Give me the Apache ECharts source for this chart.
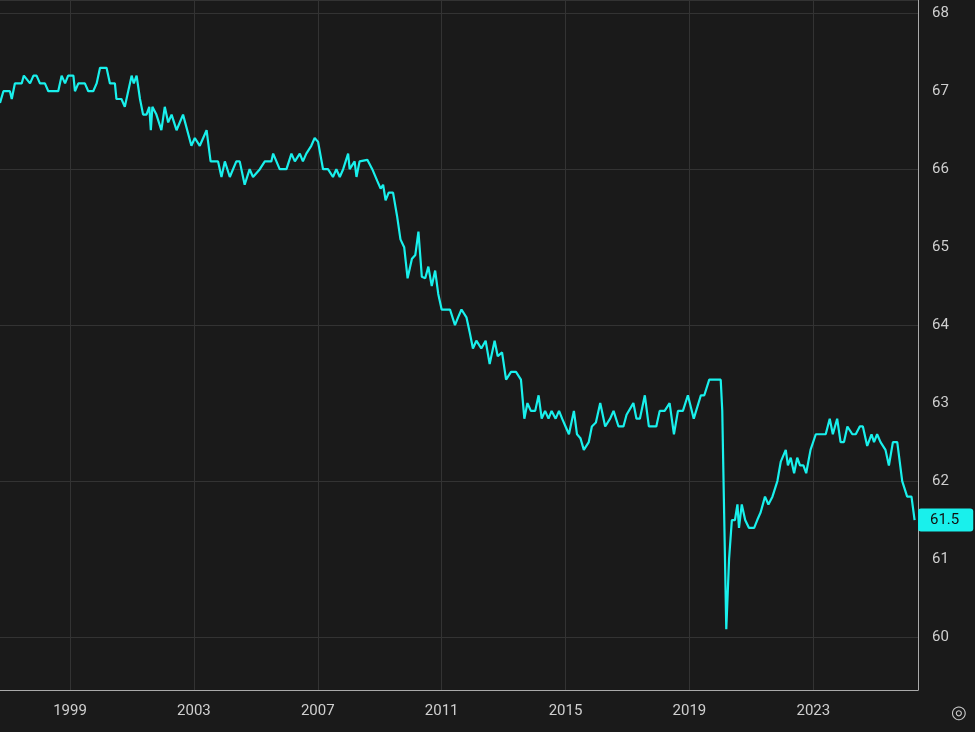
<!DOCTYPE html>
<html><head><meta charset="utf-8">
<script src="https://cdn.jsdelivr.net/npm/echarts@6/dist/echarts.min.js"></script>
<style>html,body{margin:0;background:#1a1a1a}#c{width:975px;height:732px}</style>
</head><body><div id="c"></div>
<script>
const years = [1996.74,1996.85,1997.06,1997.12,1997.22,1997.44,1997.51,1997.71,1997.82,1997.92,1998.03,1998.19,1998.30,1998.62,1998.73,1998.84,1998.94,1999.11,1999.16,1999.27,1999.48,1999.59,1999.75,1999.86,1999.97,2000.18,2000.29,2000.45,2000.50,2000.66,2000.77,2000.99,2001.06,2001.15,2001.26,2001.36,2001.47,2001.56,2001.61,2001.66,2001.79,2001.95,2002.06,2002.17,2002.28,2002.44,2002.65,2002.92,2003.03,2003.19,2003.41,2003.54,2003.78,2003.89,2004.00,2004.16,2004.37,2004.48,2004.64,2004.80,2004.91,2005.13,2005.29,2005.50,2005.56,2005.77,2005.99,2006.15,2006.26,2006.42,2006.52,2006.63,2006.79,2006.90,2007.01,2007.17,2007.33,2007.49,2007.60,2007.71,2007.82,2007.98,2008.03,2008.19,2008.25,2008.35,
2008.60,2008.76,2008.92,2009.03,2009.11,2009.19,2009.29,2009.43,2009.56,2009.67,2009.79,2009.90,2010.04,2010.15,2010.25,2010.36,2010.47,2010.57,2010.68,2010.79,2010.89,2011.00,2011.16,2011.27,2011.43,2011.53,2011.64,2011.80,2011.91,2012.01,2012.12,2012.28,2012.42,2012.55,2012.71,2012.81,2012.95,2013.08,2013.24,2013.40,2013.56,2013.67,2013.77,2013.88,2014.02,2014.13,2014.23,2014.34,2014.45,2014.55,2014.68,2014.79,2014.89,2015.00,2015.11,2015.27,2015.37,2015.48,2015.59,2015.75,2015.85,2015.98,2016.12,2016.28,2016.44,2016.55,2016.71,2016.87,2016.97,2017.19,2017.29,2017.40,2017.56,2017.69,2017.93,2018.04,2018.20,2018.36,2018.50,2018.63,2018.79,2018.95,2019.14,2019.37,2019.48,2019.64,2019.91,
2020.01,2020.06,2020.19,2020.28,2020.37,2020.47,2020.55,2020.60,2020.69,2020.80,2020.92,2021.09,2021.19,2021.30,2021.44,2021.55,2021.68,2021.84,2021.95,2022.11,2022.18,2022.27,2022.38,2022.48,2022.57,2022.68,2022.77,2022.91,2023.08,2023.40,2023.53,2023.63,2023.77,2023.88,2023.99,2024.10,2024.26,2024.37,2024.50,2024.60,2024.74,2024.88,2024.96,2025.06,2025.17,2025.33,2025.44,2025.57,2025.71,2025.87,2026.03,2026.17,2026.27];
const values = [66.85,67.0,67.0,66.9,67.1,67.1,67.2,67.1,67.2,67.2,67.1,67.1,67.0,67.0,67.2,67.1,67.2,67.2,67.0,67.1,67.1,67.0,67.0,67.1,67.3,67.3,67.1,67.1,66.9,66.9,66.8,67.2,67.1,67.2,66.9,66.7,66.7,66.8,66.5,66.8,66.7,66.5,66.8,66.6,66.7,66.5,66.7,66.3,66.4,66.3,66.5,66.1,66.1,65.9,66.1,65.9,66.1,66.1,65.8,66.0,65.9,66.0,66.1,66.1,66.2,66.0,66.0,66.2,66.1,66.2,66.1,66.2,66.3,66.4,66.35,66.0,66.0,65.9,66.0,65.9,66.0,66.2,66.0,66.1,65.9,66.1,
66.12,66.0,65.85,65.75,65.8,65.6,65.7,65.7,65.4,65.1,65.0,64.6,64.85,64.9,65.2,64.62,64.6,64.75,64.5,64.7,64.4,64.2,64.2,64.2,64.0,64.1,64.2,64.1,63.9,63.7,63.8,63.7,63.8,63.5,63.8,63.6,63.65,63.3,63.4,63.4,63.3,62.8,63.0,62.9,62.9,63.1,62.8,62.9,62.8,62.9,62.8,62.9,62.8,62.7,62.6,62.9,62.6,62.55,62.4,62.5,62.7,62.75,63.0,62.7,62.8,62.9,62.7,62.7,62.85,63.0,62.8,62.8,63.1,62.7,62.7,62.9,62.9,63.0,62.6,62.9,62.9,63.1,62.8,63.1,63.1,63.3,63.3,
63.3,62.9,60.1,61.0,61.5,61.5,61.7,61.4,61.7,61.5,61.4,61.4,61.5,61.6,61.8,61.7,61.8,62.0,62.25,62.4,62.2,62.3,62.1,62.3,62.2,62.2,62.1,62.4,62.6,62.6,62.8,62.6,62.8,62.5,62.5,62.7,62.6,62.6,62.7,62.7,62.45,62.6,62.5,62.6,62.5,62.4,62.2,62.5,62.5,62.0,61.8,61.8,61.5];
const xTicks = [1999,2003,2007,2011,2015,2019,2023];
const yTicks = [60,61,62,63,64,65,66,67,68];
const lastValue = values[values.length-1];
const cyan = '#19f0ec';
const chart = echarts.init(document.getElementById('c'));
chart.setOption({
  backgroundColor:'#1a1a1a',
  animation:false,
  grid:{left:0,right:57,top:0,bottom:42},
  xAxis:{type:'value',min:1996.74,max:2026.38,
    axisLine:{show:true,lineStyle:{color:'#aaa',width:1}},
    axisTick:{show:false},
    axisLabel:{customValues:xTicks,color:'#cfcfcf',fontSize:15,fontFamily:'Roboto',margin:14,formatter:v=>String(v)},
    splitLine:{show:false}},
  yAxis:{type:'value',position:'right',min:59.32,max:68.17,
    axisLine:{show:true,lineStyle:{color:'#aaa',width:1}},
    axisTick:{show:false},
    axisLabel:{customValues:yTicks,color:'#cfcfcf',fontSize:15,fontFamily:'Roboto',margin:14},
    splitLine:{show:true,customValues:yTicks,lineStyle:{color:'#333',width:1}},
    axisPointer:{show:true,value:lastValue,status:'show',triggerTooltip:false,
      lineStyle:{opacity:0},
      label:{show:true,backgroundColor:cyan,color:'#111',fontSize:15,fontFamily:'Roboto',padding:[4,14,4,12],margin:0,formatter:p=>p.value.toFixed(1)}}},
  series:[{type:'line',data:years.map((y,i)=>[y,values[i]]),showSymbol:false,z:3,
    lineStyle:{color:cyan,width:2.2},itemStyle:{color:cyan},
    markLine:{silent:true,symbol:['none','none'],label:{show:false},animation:false,z:1,
      lineStyle:{color:'#333',width:1,type:'solid'},
      data:xTicks.map(v=>({xAxis:v}))}}],
  graphic:[{type:'text',right:8,bottom:10,style:{text:'◎',fill:'#ccc',fontSize:18}}]
});
</script></body></html>
